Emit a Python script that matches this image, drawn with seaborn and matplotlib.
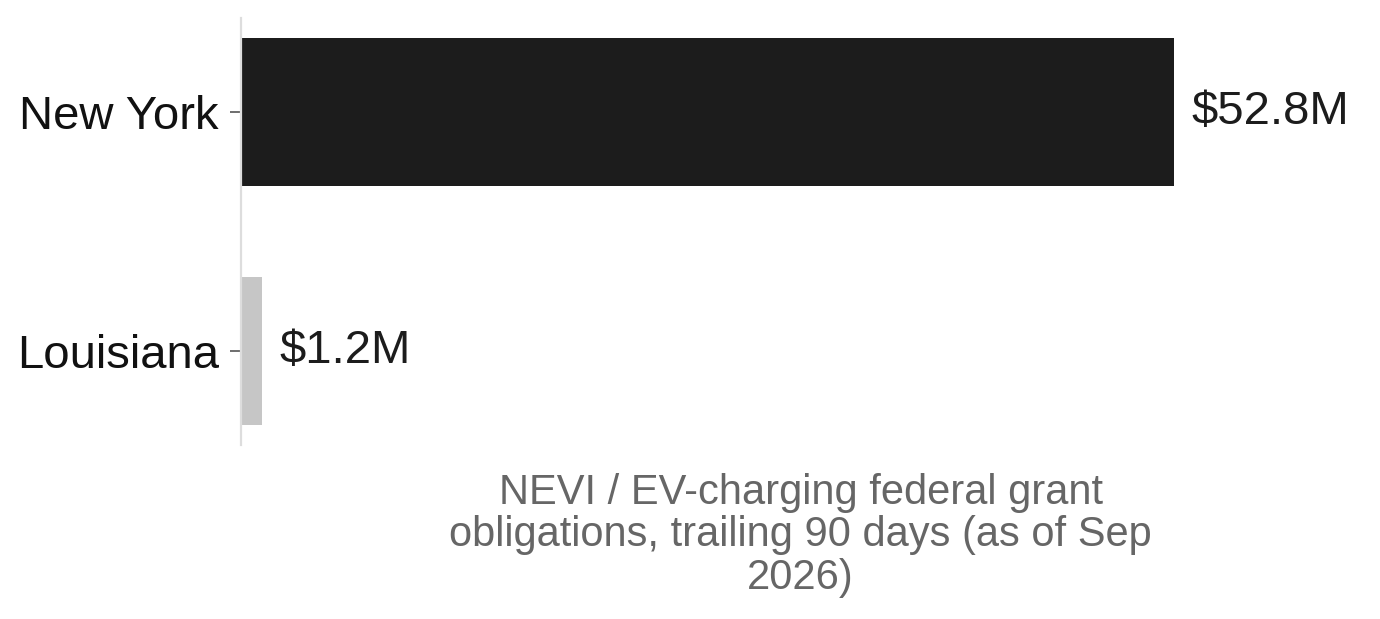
import pandas as pd
import matplotlib
matplotlib.use('Agg')
import matplotlib.pyplot as plt
import seaborn as sns

states = ['New York', 'Louisiana']
obligations = [52.8, 1.2]  # $M
value_labels = ['$52.8M', '$1.2M']
bar_colors = ['#1c1c1c', '#c6c6c6']

df = pd.DataFrame({'state': states, 'value': obligations})

sns.set_style('white')
plt.rcParams['font.family'] = ['Liberation Sans', 'DejaVu Sans']

fig = plt.figure(figsize=(6.9, 3.095), dpi=200)
ax = fig.add_axes([0.1746, 0.281, 0.811, 0.690])

sns.barplot(data=df, x='value', y='state', hue='state', palette=bar_colors,
            legend=False, width=0.62, ax=ax, saturation=1, linewidth=0)

for i, (v, lab) in enumerate(zip(obligations, value_labels)):
    ax.text(v + 1.0, i, lab, va='center', ha='left', fontsize=17, color='#1c1c1c')

ax.set_xlim(0, 52.8 * 1.2)
ax.set_ylim(1.393, -0.393)
ax.set_xticks([])
ax.set_ylabel('')
ax.set_xlabel('NEVI / EV-charging federal grant\nobligations, trailing 90 days (as of Sep\n2026)',
              fontsize=15, color='#666666', labelpad=10, linespacing=1.08)
ax.tick_params(axis='y', labelsize=17, length=4, width=0.6, color='#555555', pad=4,
               left=True, labelcolor='#111111')

for s in ['top', 'right', 'bottom']:
    ax.spines[s].set_visible(False)
ax.spines['left'].set_color('#dddddd')
ax.spines['left'].set_linewidth(0.8)

plt.savefig('out.png', dpi=200)
